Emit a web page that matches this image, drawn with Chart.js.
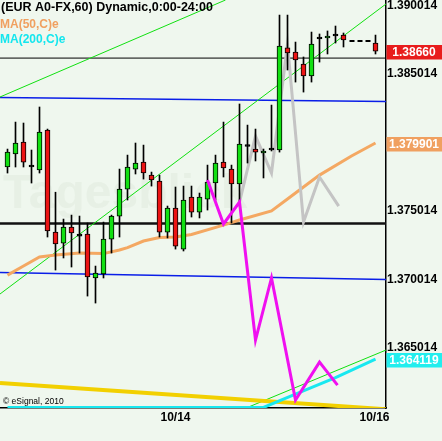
<!DOCTYPE html>
<html><head><meta charset="utf-8">
<script src="https://cdn.jsdelivr.net/npm/chart.js@4.4.0/dist/chart.umd.min.js"></script>
<style>html,body{margin:0;padding:0;background:#eff7ee;}canvas{display:block;}</style>
</head><body>
<canvas id="c" width="442" height="441"></canvas>
<script>
// ---- data ----
const candleSlot = [0,1,2,3,4,5,6,7,8,9,10,11,12,13,14,15,16,17,18,19,20,21,22,23,24,25,26,27,28,29,30,31,32,33,34,35,36,37,38,39,40,41,42,46];
const open  = [1.37815,1.37910,1.37997,1.37822,1.37793,1.38085,1.37340,1.37260,1.37377,1.37318,1.37326,1.37005,1.37034,1.37289,1.37457,1.37654,1.37800,1.37851,1.37756,1.37713,1.37340,1.37516,1.37216,1.37596,1.37486,1.37581,1.37698,1.37851,1.37800,1.37691,1.37972,1.37946,1.37917,1.37946,1.37939,1.38684,1.38654,1.38567,1.38479,1.38757,1.38757,1.38778,1.38778,1.38720];
const high  = [1.37946,1.38143,1.38136,1.37939,1.38253,1.38092,1.37631,1.37435,1.37464,1.37457,1.37406,1.37092,1.37413,1.37464,1.37800,1.37902,1.37990,1.37975,1.37778,1.37756,1.37530,1.37669,1.37676,1.37676,1.37625,1.37829,1.37902,1.38143,1.37829,1.38275,1.38121,1.38092,1.37946,1.38267,1.38924,1.38924,1.38727,1.38618,1.38800,1.38786,1.38808,1.38844,1.38793,1.38778];
const low   = [1.37771,1.37815,1.37815,1.37698,1.37771,1.37304,1.37063,1.37151,1.37085,1.37187,1.36873,1.36822,1.37005,1.37187,1.37304,1.37574,1.37764,1.37727,1.37676,1.37304,1.37297,1.37216,1.37202,1.37450,1.37443,1.37501,1.37574,1.37742,1.37406,1.37552,1.37844,1.37859,1.37735,1.37932,1.37924,1.38523,1.38435,1.38362,1.38435,1.38581,1.38640,1.38720,1.38691,1.38640];
const close = [1.37924,1.37990,1.37851,1.37822,1.38070,1.37348,1.37253,1.37377,1.37333,1.37318,1.37012,1.37041,1.37289,1.37457,1.37654,1.37815,1.37844,1.37771,1.37720,1.37340,1.37516,1.37238,1.37574,1.37486,1.37596,1.37705,1.37844,1.37808,1.37691,1.37983,1.37972,1.37924,1.37932,1.37946,1.38698,1.38647,1.38596,1.38479,1.38713,1.38757,1.38771,1.38778,1.38742,1.38660];

const ma50Slot  = [0,2,4,6,9,12,14,15,17,19,21,23,27,29,33,35,39,43,46];
const ma50      = [1.37026,1.37092,1.37158,1.37172,1.37187,1.37183,1.37209,1.37227,1.37275,1.37300,1.37304,1.37322,1.37391,1.37428,1.37494,1.37581,1.37756,1.37895,1.37990];
const ma200Slot = [0,32,36,41,46];
const ma200     = [1.36060,1.36060,1.36158,1.36278,1.36412];

const waveSlot  = [25,27,29,31,33,36,39,41.25];
const wave      = [1.37720,1.37399,1.37559,1.36552,1.37005,1.36114,1.36391,1.36223];
const altSlot   = [29,31,33,35,37,39,41.4];
const alt       = [1.37559,1.38041,1.37771,1.38713,1.37413,1.37742,1.37530];

const edgeSlot  = [-0.9375,47.3125];
const blueTop   = [1.38322,1.38293];
const blueLow   = [1.37045,1.36994];
const lineThin  = [1.38610,1.38610];
const lineThick = [1.37402,1.37402];
const chanASlot = [-0.9375,27.25],  chanA = [1.38326,1.39034];
const chanBSlot = [-0.9375,47.3125], chanB = [1.36888,1.39005];
const chanCSlot = [30.125,47.3125], chanC = [1.36063,1.36479];
const goldSlot  = [-0.9375,47.3125], gold = [1.36238,1.36047];
const gapSlot   = [42.75,45.4], gapLevel = [1.38735,1.38735];

const yTicks = [1.390014,1.385014,1.375014,1.370014,1.365014];
const xTickSlot = [19.125,44];
const xTickLabels = ['10/14','10/16'];
const lastPrice = 1.38660, ma50Last = 1.379901, ma200Last = 1.364119;

// ---- styles ----
const GREEN='#12e012', RED='#ec1414', FONT='"Liberation Sans", Arial, sans-serif';
const pts = (xs, ys) => xs.map((x,i)=>({x:x, y:ys[i]}));
function lineDs(xs, ys, color, w, order, extra){
  return Object.assign({type:'line', data:pts(xs,ys), borderColor:color, borderWidth:w, pointRadius:0, fill:false, tension:0, clip:0, order:order, spanGaps:true}, extra||{});
}
const bodyData = candleSlot.map((s,i)=> open[i]===close[i] ? {x:s, y:[open[i]-0.00007, open[i]+0.00007]} : {x:s, y:[open[i], close[i]]});
const bodyColor = candleSlot.map((s,i)=> close[i]>open[i] ? GREEN : (close[i]<open[i] ? RED : '#000'));
const wickData = candleSlot.map((s,i)=>({x:s, y:[low[i], high[i]]}));

const bg = {id:'bg', beforeDraw(ch){const c=ch.ctx; c.save(); c.fillStyle='#eff7ee'; c.fillRect(0,0,ch.width,ch.height); c.restore();},
  beforeDatasetsDraw(ch){
    const c=ch.ctx; c.save();
    c.fillStyle='rgba(205,220,200,0.22)';
    c.font='bold 48px '+FONT; c.textBaseline='alphabetic';
    c.fillText('Tagesblick', 3, 208);
    c.restore();
  }};
const overlay = {id:'overlay', afterDraw(ch){
  const c=ch.ctx, y=ch.scales.y, L=ch.chartArea.right;
  c.save();
  function box(v, col){
    const p=y.getPixelForValue(v);
    c.fillStyle=col; c.fillRect(L+0.5, Math.round(p-6), ch.width-L, 14.5);
    c.fillStyle='#fff'; c.font='bold 12px '+FONT; c.textAlign='center'; c.textBaseline='middle';
    c.fillText(v===lastPrice? v.toFixed(5) : v.toFixed(6), 414, Math.round(p-6)+7.5);
  }
  box(lastPrice, '#e81c1c'); box(ma50Last, '#f0a060'); box(ma200Last, '#22eeee');
  c.textAlign='left'; c.textBaseline='alphabetic';
  c.font='bold 12.5px '+FONT; c.fillStyle='#000'; c.fillText('(EUR A0-FX,60) Dynamic,0:00-24:00', 1, 11);
  c.font='bold 12px '+FONT; c.fillStyle='#f0a060'; c.fillText('MA(50,C)e', 0, 28);
  c.fillStyle='#14e6ee'; c.fillText('MA(200,C)e', 0, 43);
  c.font='8.5px '+FONT; c.fillStyle='#000'; c.fillText('\u00a9 eSignal, 2010', 3, 404);
  c.restore();
}};

new Chart(document.getElementById('c'), {
  type:'bar',
  data:{datasets:[
    lineDs(waveSlot, wave, '#f010f0', 3, 0),
    {type:'bar', data:bodyData, backgroundColor:bodyColor, borderColor:'#000', borderWidth:1, borderSkipped:false, barThickness:5, grouped:false, order:1},
    {type:'bar', data:wickData, backgroundColor:'#000', borderWidth:0, barThickness:1, grouped:false, order:2},
    lineDs(gapSlot, gapLevel, '#000', 2, 2, {borderDash:[5,3]}),
    lineDs(altSlot, alt, '#c4c4c4', 3, 3),
    lineDs(ma50Slot, ma50, '#f4a862', 3, 4),
    lineDs(ma200Slot, ma200, '#18e8f0', 3, 4),
    lineDs(goldSlot, gold, '#f2d000', 4, 5),
    lineDs(chanASlot, chanA, '#10e010', 1, 6),
    lineDs(chanBSlot, chanB, '#10e010', 1, 6),
    lineDs(chanCSlot, chanC, '#10e010', 1, 6),
    lineDs(edgeSlot, blueTop, '#0a1ee8', 1.5, 7),
    lineDs(edgeSlot, blueLow, '#0a1ee8', 1.5, 7),
    lineDs(edgeSlot, lineThin, '#000', 1, 7),
    lineDs(edgeSlot, lineThick, '#111', 2.5, 7)
  ]},
  options:{
    responsive:false, animation:false, devicePixelRatio:1,
    layout:{padding:0},
    plugins:{legend:{display:false}, tooltip:{enabled:false}, title:{display:false}},
    scales:{
      x:{type:'linear', position:'bottom', min:-0.9375, max:47.3125, offset:false,
         grid:{display:false, drawTicks:false}, border:{display:true, color:'#000', width:1.5},
         afterBuildTicks:s=>{ s.ticks = xTickSlot.map(v=>({value:v})); },
         afterFit:s=>{ s.height = 33; s.paddingLeft = 0; s.paddingRight = 0; },
         ticks:{autoSkip:false, maxRotation:0, minRotation:0, align:'start', padding:2, color:'#000',
                font:{family:FONT, size:12, weight:'bold'}, callback:(v,i)=>xTickLabels[i]}},
      y:{type:'linear', position:'right', min:1.36056, max:1.39034,
         grid:{display:false, drawTicks:false}, border:{display:true, color:'#000', width:1.5},
         afterBuildTicks:s=>{ s.ticks = yTicks.map(v=>({value:v})); },
         afterFit:s=>{ s.width = 56; s.paddingTop = 0; s.paddingBottom = 0; },
         ticks:{padding:1, labelOffset:1, color:'#000', font:{family:FONT, size:12, weight:'bold'}, callback:v=>Number(v).toFixed(6)}}
    }
  },
  plugins:[bg, overlay]
});
</script>
</body></html>
